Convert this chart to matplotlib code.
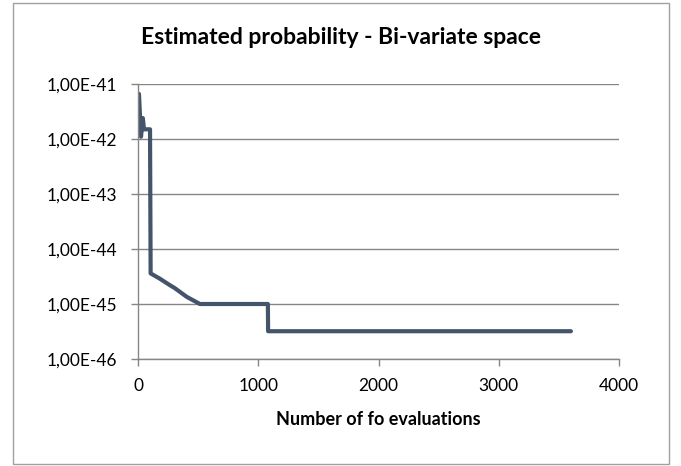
import numpy as np
import matplotlib.pyplot as plt
from matplotlib.patches import Rectangle
from matplotlib.ticker import FuncFormatter

# convergence of the estimated probability
evals = [8, 25, 40, 50, 100, 105, 180, 265, 305, 405, 515, 1080, 1082, 3600]
prob = [6.6e-42, 1.1e-42, 2.4e-42, 1.5e-42, 1.5e-42, 3.6e-45, 2.9e-45,
        2.2e-45, 1.95e-45, 1.35e-45, 1.0e-45, 1.0e-45, 3.2e-46, 3.2e-46]

xticks = [0, 1000, 2000, 3000, 4000]
yticks = [1e-46, 1e-45, 1e-44, 1e-43, 1e-42, 1e-41]

plt.rcParams['font.family'] = ['Lato', 'DejaVu Sans']
grey = '#868686'

fig = plt.figure(figsize=(6.81, 4.66), dpi=100)
fig.patches.append(Rectangle((13 / 681, 2 / 466), 656 / 681, 461 / 466,
                             transform=fig.transFigure, fill=False,
                             edgecolor='#a0a0a0', linewidth=1))

ax = fig.add_axes([138 / 681, 1 - 359 / 466, 481 / 681, 275 / 466])
ax.plot(evals, prob, color='#44546a', linewidth=3.0, solid_joinstyle='round',
        solid_capstyle='round')

ax.set_yscale('log')
ax.set_xlim(0, 4000)
ax.set_ylim(1e-46, 1e-41)
ax.set_xticks(xticks)
ax.set_yticks(yticks)
ax.minorticks_off()

def sci_comma(v, pos):
    e = int(round(np.log10(v)))
    return '1,00E%d' % e

ax.yaxis.set_major_formatter(FuncFormatter(sci_comma))
ax.grid(axis='y', color=grey, linewidth=1)
ax.set_axisbelow(True)

for s in ['top', 'right']:
    ax.spines[s].set_visible(False)
for s in ['left', 'bottom']:
    ax.spines[s].set_color(grey)
    ax.spines[s].set_linewidth(1)

ax.tick_params(axis='both', color=grey, length=5, width=1, labelsize=12.5,
               labelcolor='black')
ax.tick_params(axis='y', pad=10)
ax.tick_params(axis='x', pad=9)

fig.text(341 / 681, 1 - 44 / 466, 'Estimated probability - Bi-variate space',
         ha='center', va='baseline', fontsize=16.5, fontweight='bold')
ax.set_xlabel('Number of fo evaluations', fontsize=13, fontweight='bold',
              labelpad=12)

fig.savefig('out.png', dpi=100)
